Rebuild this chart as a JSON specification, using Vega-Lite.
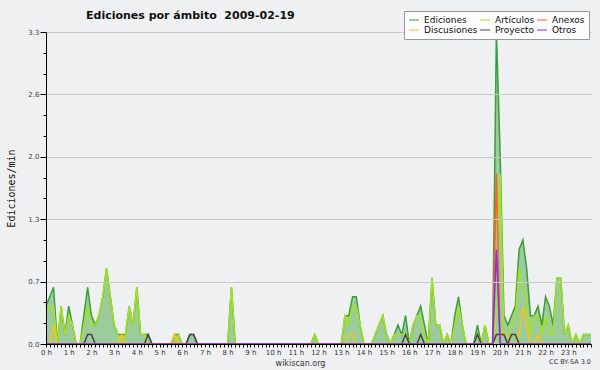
{
  "$schema": "https://vega.github.io/schema/vega-lite/v6.json",
  "width": 545,
  "height": 312,
  "autosize": {"type": "none"},
  "padding": {"left": 46, "top": 32, "right": 9, "bottom": 26},
  "background": "#eff0f2",
  "title": {"text": "Ediciones por ámbito\u00a0 2009-02-19", "anchor": "start", "dx": 80, "dy": 33, "font": "DejaVu Sans", "fontSize": 11, "fontWeight": "bold", "color": "#111111", "offset": 14, "baseline": "alphabetic"},
  "config": {"view": {"stroke": null}},
  "data": {"values": [
    {"t":0,"Ediciones":0.4,"Artículos":0.3,"Discusiones":0,"Proyecto":0,"Anexos":0,"Otros":0},
    {"t":10,"Ediciones":0.5,"Artículos":0.4,"Discusiones":0,"Proyecto":0,"Anexos":0,"Otros":0},
    {"t":20,"Ediciones":0.6,"Artículos":0.4,"Discusiones":0.2,"Proyecto":0,"Anexos":0,"Otros":0},
    {"t":30,"Ediciones":0,"Artículos":0,"Discusiones":0,"Proyecto":0,"Anexos":0,"Otros":0},
    {"t":40,"Ediciones":0.4,"Artículos":0.4,"Discusiones":0,"Proyecto":0,"Anexos":0,"Otros":0},
    {"t":50,"Ediciones":0.1,"Artículos":0.1,"Discusiones":0,"Proyecto":0,"Anexos":0,"Otros":0},
    {"t":60,"Ediciones":0.4,"Artículos":0.3,"Discusiones":0,"Proyecto":0,"Anexos":0,"Otros":0},
    {"t":70,"Ediciones":0.2,"Artículos":0.2,"Discusiones":0,"Proyecto":0,"Anexos":0,"Otros":0},
    {"t":80,"Ediciones":0,"Artículos":0,"Discusiones":0,"Proyecto":0,"Anexos":0,"Otros":0},
    {"t":90,"Ediciones":0,"Artículos":0,"Discusiones":0,"Proyecto":0,"Anexos":0,"Otros":0},
    {"t":100,"Ediciones":0.3,"Artículos":0.2,"Discusiones":0,"Proyecto":0,"Anexos":0,"Otros":0},
    {"t":110,"Ediciones":0.6,"Artículos":0.4,"Discusiones":0,"Proyecto":0.1,"Anexos":0,"Otros":0},
    {"t":120,"Ediciones":0.3,"Artículos":0.2,"Discusiones":0,"Proyecto":0.1,"Anexos":0,"Otros":0},
    {"t":130,"Ediciones":0.2,"Artículos":0.2,"Discusiones":0,"Proyecto":0,"Anexos":0,"Otros":0},
    {"t":140,"Ediciones":0.3,"Artículos":0.3,"Discusiones":0,"Proyecto":0,"Anexos":0,"Otros":0},
    {"t":150,"Ediciones":0.5,"Artículos":0.5,"Discusiones":0,"Proyecto":0,"Anexos":0,"Otros":0},
    {"t":160,"Ediciones":0.8,"Artículos":0.8,"Discusiones":0,"Proyecto":0,"Anexos":0,"Otros":0},
    {"t":170,"Ediciones":0.5,"Artículos":0.5,"Discusiones":0,"Proyecto":0,"Anexos":0,"Otros":0},
    {"t":180,"Ediciones":0.2,"Artículos":0.2,"Discusiones":0,"Proyecto":0,"Anexos":0,"Otros":0},
    {"t":190,"Ediciones":0.1,"Artículos":0.1,"Discusiones":0,"Proyecto":0,"Anexos":0,"Otros":0},
    {"t":200,"Ediciones":0.1,"Artículos":0,"Discusiones":0.1,"Proyecto":0,"Anexos":0,"Otros":0},
    {"t":210,"Ediciones":0.1,"Artículos":0.1,"Discusiones":0,"Proyecto":0,"Anexos":0,"Otros":0},
    {"t":220,"Ediciones":0.4,"Artículos":0.4,"Discusiones":0,"Proyecto":0,"Anexos":0,"Otros":0},
    {"t":230,"Ediciones":0.2,"Artículos":0.2,"Discusiones":0,"Proyecto":0,"Anexos":0,"Otros":0},
    {"t":240,"Ediciones":0.6,"Artículos":0.6,"Discusiones":0,"Proyecto":0,"Anexos":0,"Otros":0},
    {"t":250,"Ediciones":0.1,"Artículos":0.1,"Discusiones":0,"Proyecto":0,"Anexos":0,"Otros":0},
    {"t":260,"Ediciones":0.1,"Artículos":0.1,"Discusiones":0,"Proyecto":0,"Anexos":0,"Otros":0},
    {"t":270,"Ediciones":0.1,"Artículos":0,"Discusiones":0,"Proyecto":0.1,"Anexos":0,"Otros":0},
    {"t":280,"Ediciones":0,"Artículos":0,"Discusiones":0,"Proyecto":0,"Anexos":0,"Otros":0},
    {"t":290,"Ediciones":0,"Artículos":0,"Discusiones":0,"Proyecto":0,"Anexos":0,"Otros":0},
    {"t":300,"Ediciones":0,"Artículos":0,"Discusiones":0,"Proyecto":0,"Anexos":0,"Otros":0},
    {"t":310,"Ediciones":0,"Artículos":0,"Discusiones":0,"Proyecto":0,"Anexos":0,"Otros":0},
    {"t":320,"Ediciones":0,"Artículos":0,"Discusiones":0,"Proyecto":0,"Anexos":0,"Otros":0},
    {"t":330,"Ediciones":0,"Artículos":0,"Discusiones":0,"Proyecto":0,"Anexos":0,"Otros":0},
    {"t":340,"Ediciones":0.1,"Artículos":0,"Discusiones":0.1,"Proyecto":0,"Anexos":0,"Otros":0},
    {"t":350,"Ediciones":0.1,"Artículos":0.1,"Discusiones":0,"Proyecto":0,"Anexos":0,"Otros":0},
    {"t":360,"Ediciones":0,"Artículos":0,"Discusiones":0,"Proyecto":0,"Anexos":0,"Otros":0},
    {"t":370,"Ediciones":0,"Artículos":0,"Discusiones":0,"Proyecto":0,"Anexos":0,"Otros":0},
    {"t":380,"Ediciones":0.1,"Artículos":0,"Discusiones":0,"Proyecto":0.1,"Anexos":0,"Otros":0},
    {"t":390,"Ediciones":0.1,"Artículos":0,"Discusiones":0,"Proyecto":0.1,"Anexos":0,"Otros":0},
    {"t":400,"Ediciones":0,"Artículos":0,"Discusiones":0,"Proyecto":0,"Anexos":0,"Otros":0},
    {"t":410,"Ediciones":0,"Artículos":0,"Discusiones":0,"Proyecto":0,"Anexos":0,"Otros":0},
    {"t":420,"Ediciones":0,"Artículos":0,"Discusiones":0,"Proyecto":0,"Anexos":0,"Otros":0},
    {"t":430,"Ediciones":0,"Artículos":0,"Discusiones":0,"Proyecto":0,"Anexos":0,"Otros":0},
    {"t":440,"Ediciones":0,"Artículos":0,"Discusiones":0,"Proyecto":0,"Anexos":0,"Otros":0},
    {"t":450,"Ediciones":0,"Artículos":0,"Discusiones":0,"Proyecto":0,"Anexos":0,"Otros":0},
    {"t":460,"Ediciones":0,"Artículos":0,"Discusiones":0,"Proyecto":0,"Anexos":0,"Otros":0},
    {"t":470,"Ediciones":0,"Artículos":0,"Discusiones":0,"Proyecto":0,"Anexos":0,"Otros":0},
    {"t":480,"Ediciones":0,"Artículos":0,"Discusiones":0,"Proyecto":0,"Anexos":0,"Otros":0},
    {"t":490,"Ediciones":0.6,"Artículos":0.6,"Discusiones":0,"Proyecto":0,"Anexos":0,"Otros":0},
    {"t":500,"Ediciones":0,"Artículos":0,"Discusiones":0,"Proyecto":0,"Anexos":0,"Otros":0},
    {"t":510,"Ediciones":0,"Artículos":0,"Discusiones":0,"Proyecto":0,"Anexos":0,"Otros":0},
    {"t":520,"Ediciones":0,"Artículos":0,"Discusiones":0,"Proyecto":0,"Anexos":0,"Otros":0},
    {"t":530,"Ediciones":0,"Artículos":0,"Discusiones":0,"Proyecto":0,"Anexos":0,"Otros":0},
    {"t":540,"Ediciones":0,"Artículos":0,"Discusiones":0,"Proyecto":0,"Anexos":0,"Otros":0},
    {"t":550,"Ediciones":0,"Artículos":0,"Discusiones":0,"Proyecto":0,"Anexos":0,"Otros":0},
    {"t":560,"Ediciones":0,"Artículos":0,"Discusiones":0,"Proyecto":0,"Anexos":0,"Otros":0},
    {"t":570,"Ediciones":0,"Artículos":0,"Discusiones":0,"Proyecto":0,"Anexos":0,"Otros":0},
    {"t":580,"Ediciones":0,"Artículos":0,"Discusiones":0,"Proyecto":0,"Anexos":0,"Otros":0},
    {"t":590,"Ediciones":0,"Artículos":0,"Discusiones":0,"Proyecto":0,"Anexos":0,"Otros":0},
    {"t":600,"Ediciones":0,"Artículos":0,"Discusiones":0,"Proyecto":0,"Anexos":0,"Otros":0},
    {"t":610,"Ediciones":0,"Artículos":0,"Discusiones":0,"Proyecto":0,"Anexos":0,"Otros":0},
    {"t":620,"Ediciones":0,"Artículos":0,"Discusiones":0,"Proyecto":0,"Anexos":0,"Otros":0},
    {"t":630,"Ediciones":0,"Artículos":0,"Discusiones":0,"Proyecto":0,"Anexos":0,"Otros":0},
    {"t":640,"Ediciones":0,"Artículos":0,"Discusiones":0,"Proyecto":0,"Anexos":0,"Otros":0},
    {"t":650,"Ediciones":0,"Artículos":0,"Discusiones":0,"Proyecto":0,"Anexos":0,"Otros":0},
    {"t":660,"Ediciones":0,"Artículos":0,"Discusiones":0,"Proyecto":0,"Anexos":0,"Otros":0},
    {"t":670,"Ediciones":0,"Artículos":0,"Discusiones":0,"Proyecto":0,"Anexos":0,"Otros":0},
    {"t":680,"Ediciones":0,"Artículos":0,"Discusiones":0,"Proyecto":0,"Anexos":0,"Otros":0},
    {"t":690,"Ediciones":0,"Artículos":0,"Discusiones":0,"Proyecto":0,"Anexos":0,"Otros":0},
    {"t":700,"Ediciones":0,"Artículos":0,"Discusiones":0,"Proyecto":0,"Anexos":0,"Otros":0},
    {"t":710,"Ediciones":0.1,"Artículos":0.1,"Discusiones":0,"Proyecto":0,"Anexos":0,"Otros":0},
    {"t":720,"Ediciones":0,"Artículos":0,"Discusiones":0,"Proyecto":0,"Anexos":0,"Otros":0},
    {"t":730,"Ediciones":0,"Artículos":0,"Discusiones":0,"Proyecto":0,"Anexos":0,"Otros":0},
    {"t":740,"Ediciones":0,"Artículos":0,"Discusiones":0,"Proyecto":0,"Anexos":0,"Otros":0},
    {"t":750,"Ediciones":0,"Artículos":0,"Discusiones":0,"Proyecto":0,"Anexos":0,"Otros":0},
    {"t":760,"Ediciones":0,"Artículos":0,"Discusiones":0,"Proyecto":0,"Anexos":0,"Otros":0},
    {"t":770,"Ediciones":0,"Artículos":0,"Discusiones":0,"Proyecto":0,"Anexos":0,"Otros":0},
    {"t":780,"Ediciones":0,"Artículos":0,"Discusiones":0,"Proyecto":0,"Anexos":0,"Otros":0},
    {"t":790,"Ediciones":0.3,"Artículos":0.3,"Discusiones":0,"Proyecto":0,"Anexos":0,"Otros":0},
    {"t":800,"Ediciones":0.3,"Artículos":0.2,"Discusiones":0.1,"Proyecto":0,"Anexos":0,"Otros":0},
    {"t":810,"Ediciones":0.5,"Artículos":0.4,"Discusiones":0.1,"Proyecto":0,"Anexos":0,"Otros":0},
    {"t":820,"Ediciones":0.5,"Artículos":0.4,"Discusiones":0,"Proyecto":0,"Anexos":0,"Otros":0},
    {"t":830,"Ediciones":0.2,"Artículos":0.2,"Discusiones":0,"Proyecto":0,"Anexos":0,"Otros":0},
    {"t":840,"Ediciones":0,"Artículos":0,"Discusiones":0,"Proyecto":0,"Anexos":0,"Otros":0},
    {"t":850,"Ediciones":0,"Artículos":0,"Discusiones":0,"Proyecto":0,"Anexos":0,"Otros":0},
    {"t":860,"Ediciones":0,"Artículos":0,"Discusiones":0,"Proyecto":0,"Anexos":0,"Otros":0},
    {"t":870,"Ediciones":0.1,"Artículos":0.1,"Discusiones":0,"Proyecto":0,"Anexos":0,"Otros":0},
    {"t":880,"Ediciones":0.2,"Artículos":0.2,"Discusiones":0,"Proyecto":0,"Anexos":0,"Otros":0},
    {"t":890,"Ediciones":0.3,"Artículos":0.3,"Discusiones":0,"Proyecto":0,"Anexos":0,"Otros":0},
    {"t":900,"Ediciones":0.1,"Artículos":0.1,"Discusiones":0,"Proyecto":0,"Anexos":0,"Otros":0},
    {"t":910,"Ediciones":0,"Artículos":0,"Discusiones":0,"Proyecto":0,"Anexos":0,"Otros":0},
    {"t":920,"Ediciones":0.1,"Artículos":0.1,"Discusiones":0,"Proyecto":0,"Anexos":0,"Otros":0},
    {"t":930,"Ediciones":0.2,"Artículos":0.1,"Discusiones":0,"Proyecto":0,"Anexos":0,"Otros":0},
    {"t":940,"Ediciones":0.1,"Artículos":0.1,"Discusiones":0,"Proyecto":0,"Anexos":0,"Otros":0},
    {"t":950,"Ediciones":0.3,"Artículos":0.1,"Discusiones":0,"Proyecto":0.1,"Anexos":0,"Otros":0},
    {"t":960,"Ediciones":0,"Artículos":0,"Discusiones":0,"Proyecto":0,"Anexos":0,"Otros":0},
    {"t":970,"Ediciones":0.2,"Artículos":0.2,"Discusiones":0,"Proyecto":0,"Anexos":0,"Otros":0},
    {"t":980,"Ediciones":0.3,"Artículos":0.3,"Discusiones":0,"Proyecto":0,"Anexos":0,"Otros":0},
    {"t":990,"Ediciones":0.4,"Artículos":0.3,"Discusiones":0,"Proyecto":0.1,"Anexos":0,"Otros":0},
    {"t":1000,"Ediciones":0.2,"Artículos":0.1,"Discusiones":0,"Proyecto":0,"Anexos":0,"Otros":0},
    {"t":1010,"Ediciones":0,"Artículos":0,"Discusiones":0,"Proyecto":0,"Anexos":0,"Otros":0},
    {"t":1020,"Ediciones":0.7,"Artículos":0.7,"Discusiones":0,"Proyecto":0,"Anexos":0,"Otros":0},
    {"t":1030,"Ediciones":0.2,"Artículos":0.2,"Discusiones":0,"Proyecto":0,"Anexos":0,"Otros":0},
    {"t":1040,"Ediciones":0.2,"Artículos":0.2,"Discusiones":0,"Proyecto":0,"Anexos":0,"Otros":0},
    {"t":1050,"Ediciones":0,"Artículos":0,"Discusiones":0,"Proyecto":0,"Anexos":0,"Otros":0},
    {"t":1060,"Ediciones":0.1,"Artículos":0.1,"Discusiones":0,"Proyecto":0,"Anexos":0,"Otros":0},
    {"t":1070,"Ediciones":0,"Artículos":0,"Discusiones":0,"Proyecto":0,"Anexos":0,"Otros":0},
    {"t":1080,"Ediciones":0.3,"Artículos":0.2,"Discusiones":0,"Proyecto":0,"Anexos":0,"Otros":0},
    {"t":1090,"Ediciones":0.5,"Artículos":0.4,"Discusiones":0,"Proyecto":0,"Anexos":0,"Otros":0},
    {"t":1100,"Ediciones":0.2,"Artículos":0.2,"Discusiones":0,"Proyecto":0,"Anexos":0,"Otros":0},
    {"t":1110,"Ediciones":0,"Artículos":0,"Discusiones":0,"Proyecto":0,"Anexos":0,"Otros":0},
    {"t":1120,"Ediciones":0,"Artículos":0,"Discusiones":0,"Proyecto":0,"Anexos":0,"Otros":0},
    {"t":1130,"Ediciones":0,"Artículos":0,"Discusiones":0,"Proyecto":0,"Anexos":0,"Otros":0},
    {"t":1140,"Ediciones":0.2,"Artículos":0.1,"Discusiones":0,"Proyecto":0.1,"Anexos":0,"Otros":0},
    {"t":1150,"Ediciones":0,"Artículos":0,"Discusiones":0,"Proyecto":0,"Anexos":0,"Otros":0},
    {"t":1160,"Ediciones":0.2,"Artículos":0.2,"Discusiones":0,"Proyecto":0,"Anexos":0,"Otros":0},
    {"t":1170,"Ediciones":0,"Artículos":0,"Discusiones":0,"Proyecto":0,"Anexos":0,"Otros":0},
    {"t":1180,"Ediciones":0,"Artículos":0,"Discusiones":0,"Proyecto":0,"Anexos":0,"Otros":0},
    {"t":1190,"Ediciones":3.3,"Artículos":0.3,"Discusiones":0.1,"Proyecto":0.1,"Anexos":1.8,"Otros":1.0},
    {"t":1200,"Ediciones":2.0,"Artículos":1.8,"Discusiones":0.1,"Proyecto":0.1,"Anexos":0,"Otros":0},
    {"t":1210,"Ediciones":0.3,"Artículos":0.1,"Discusiones":0.1,"Proyecto":0.1,"Anexos":0,"Otros":0},
    {"t":1220,"Ediciones":0.2,"Artículos":0.1,"Discusiones":0.1,"Proyecto":0,"Anexos":0,"Otros":0},
    {"t":1230,"Ediciones":0.3,"Artículos":0.2,"Discusiones":0,"Proyecto":0.1,"Anexos":0,"Otros":0},
    {"t":1240,"Ediciones":0.4,"Artículos":0.3,"Discusiones":0,"Proyecto":0.1,"Anexos":0,"Otros":0},
    {"t":1250,"Ediciones":1.0,"Artículos":0.8,"Discusiones":0.1,"Proyecto":0,"Anexos":0,"Otros":0},
    {"t":1260,"Ediciones":1.1,"Artículos":0.6,"Discusiones":0.4,"Proyecto":0,"Anexos":0,"Otros":0},
    {"t":1270,"Ediciones":0.8,"Artículos":0.4,"Discusiones":0.2,"Proyecto":0,"Anexos":0,"Otros":0},
    {"t":1280,"Ediciones":0.3,"Artículos":0.1,"Discusiones":0,"Proyecto":0,"Anexos":0,"Otros":0},
    {"t":1290,"Ediciones":0.3,"Artículos":0.3,"Discusiones":0,"Proyecto":0,"Anexos":0,"Otros":0},
    {"t":1300,"Ediciones":0.4,"Artículos":0.3,"Discusiones":0.1,"Proyecto":0,"Anexos":0,"Otros":0},
    {"t":1310,"Ediciones":0.2,"Artículos":0.1,"Discusiones":0,"Proyecto":0,"Anexos":0,"Otros":0},
    {"t":1320,"Ediciones":0.5,"Artículos":0.3,"Discusiones":0,"Proyecto":0,"Anexos":0,"Otros":0},
    {"t":1330,"Ediciones":0.4,"Artículos":0.1,"Discusiones":0,"Proyecto":0,"Anexos":0,"Otros":0},
    {"t":1340,"Ediciones":0.2,"Artículos":0.1,"Discusiones":0,"Proyecto":0,"Anexos":0,"Otros":0},
    {"t":1350,"Ediciones":0.7,"Artículos":0.7,"Discusiones":0,"Proyecto":0,"Anexos":0,"Otros":0},
    {"t":1360,"Ediciones":0.7,"Artículos":0.7,"Discusiones":0,"Proyecto":0,"Anexos":0,"Otros":0},
    {"t":1370,"Ediciones":0.1,"Artículos":0.1,"Discusiones":0,"Proyecto":0,"Anexos":0,"Otros":0},
    {"t":1380,"Ediciones":0.2,"Artículos":0.2,"Discusiones":0,"Proyecto":0,"Anexos":0,"Otros":0},
    {"t":1390,"Ediciones":0,"Artículos":0,"Discusiones":0,"Proyecto":0,"Anexos":0,"Otros":0},
    {"t":1400,"Ediciones":0.1,"Artículos":0.1,"Discusiones":0,"Proyecto":0,"Anexos":0,"Otros":0},
    {"t":1410,"Ediciones":0,"Artículos":0,"Discusiones":0,"Proyecto":0,"Anexos":0,"Otros":0},
    {"t":1420,"Ediciones":0.1,"Artículos":0.1,"Discusiones":0,"Proyecto":0,"Anexos":0,"Otros":0},
    {"t":1430,"Ediciones":0.1,"Artículos":0.1,"Discusiones":0,"Proyecto":0,"Anexos":0,"Otros":0},
    {"t":1440,"Ediciones":0.1,"Artículos":0.1,"Discusiones":0,"Proyecto":0,"Anexos":0,"Otros":0}
  ]},
  "layer": [
    {
      "mark": {"type": "area", "color": "#9ccb9c", "interpolate": "linear"},
      "encoding": {
        "x": {"field": "t", "type": "quantitative", "title": "wikiscan.org",
          "scale": {"domain": [0, 1440], "nice": false, "zero": false},
          "axis": {"tickCount": 144,
            "labelExpr": "datum.value % 60 === 0 && datum.value < 1440 ? (datum.value / 60) + ' h' : ''",
            "labelOverlap": false, "labelFlush": false, "labelFont": "DejaVu Sans", "labelFontSize": 7, "labelColor": "#333333", "labelPadding": 1,
            "tickSize": 3, "tickColor": "#000000", "domainColor": "#000000", "grid": false,
            "titleFont": "DejaVu Sans", "titleFontSize": 8, "titleFontWeight": "normal", "titleColor": "#333333",
            "titleX": 254, "titleY": 21, "titleBaseline": "alphabetic", "zindex": 1}},
        "y": {"field": "Ediciones", "type": "quantitative", "title": "Ediciones/min",
          "scale": {"domain": [0, 3.3], "nice": false},
          "axis": {"values": [0, 0.22, 0.44, 0.66, 0.88, 1.1, 1.32, 1.54, 1.76, 1.98, 2.2, 2.42, 2.64, 2.86, 3.08, 3.3],
            "tickCount": 20,
            "labelExpr": "indexof([0, 0.66, 1.32, 1.98, 2.64, 3.3], datum.value) >= 0 ? format(datum.value, '.1f') : ''",
            "labelOverlap": false, "labelFlush": false, "labelFont": "DejaVu Sans", "labelFontSize": 7, "labelColor": "#444444", "labelPadding": 1,
            "tickSize": {"condition": {"test": "indexof([0, 0.66, 1.32, 1.98, 2.64, 3.3], datum.value) >= 0", "value": 6}, "value": 3},
            "tickColor": "#000000", "domainColor": "#000000",
            "grid": true, "gridColor": "#c8c8c8",
            "gridOpacity": {"condition": {"test": "indexof([0.66, 1.32, 1.98, 2.64, 3.3], datum.value) >= 0", "value": 1}, "value": 0},
            "titleFont": "DejaVu Sans Mono", "titleFontSize": 10, "titleFontWeight": "normal", "titleColor": "#111111",
            "titleX": -32, "titleBaseline": "alphabetic", "zindex": 1}}
      }
    },
    {
      "transform": [{"fold": ["Ediciones", "Artículos", "Discusiones", "Proyecto", "Anexos", "Otros"], "as": ["serie", "valor"]}],
      "mark": {"type": "line", "strokeWidth": 1.5, "interpolate": "linear"},
      "encoding": {
        "x": {"field": "t", "type": "quantitative", "title": "wikiscan.org"},
        "y": {"field": "valor", "type": "quantitative", "title": "Ediciones/min"},
        "color": {"field": "serie", "type": "nominal",
          "scale": {"domain": ["Ediciones", "Artículos", "Anexos", "Discusiones", "Proyecto", "Otros"],
                    "range": ["#3a9e3a", "#a6e31c", "#ff5f2a", "#f5c518", "#444444", "#8a2be2"]},
          "legend": {"orient": "none", "legendX": 358, "legendY": -21, "direction": "horizontal", "columns": 3, "title": null, "zindex": 3,
            "symbolType": "stroke", "symbolSize": 100, "symbolStrokeWidth": 1.2, "clipHeight": 10,
            "labelFont": "DejaVu Sans", "labelFontSize": 9, "labelColor": "#111111", "labelOffset": 4, "labelBaseline": "middle",
            "columnPadding": 1, "rowPadding": 0, "padding": 4, "fillColor": "#fcfcfc", "strokeColor": "#999999"}}
      }
    },
    {
      "data": {"values": [{"label": "CC BY-SA 3.0"}]},
      "mark": {"type": "text", "align": "right", "baseline": "middle", "fontSize": 6.5, "font": "DejaVu Sans", "color": "#333333"},
      "encoding": {
        "x": {"datum": 1440, "type": "quantitative", "title": "wikiscan.org"},
        "y": {"datum": -0.19, "type": "quantitative", "title": "Ediciones/min"},
        "text": {"field": "label"}
      }
    }
  ]
}
